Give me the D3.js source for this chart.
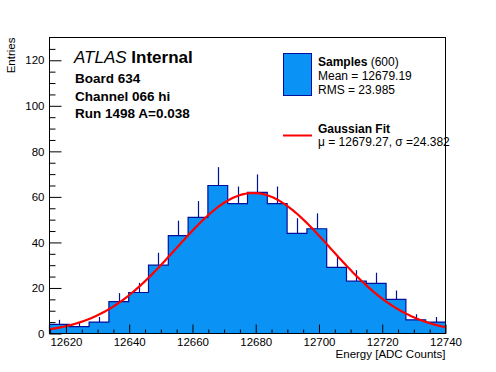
<!DOCTYPE html>
<html>
<head>
<meta charset="utf-8">
<script src="https://cdn.jsdelivr.net/npm/d3@7"></script>
<style>
  body { margin: 0; background: #fff; }
  svg { display: block; font-family: "Liberation Sans", Arial, Helvetica, sans-serif; }
</style>
</head>
<body>
<div id="chart"></div>
<script>
// histogram: 20 bins between xMin and xMax
const xMin = 12614.8;
const xMax = 12740;
const binCounts = [4, 3, 5, 14, 18, 30, 43, 51, 65, 57, 62, 57, 44, 46, 29, 23, 22, 15, 6, 5];

// axis ticks
const xMajorTicks = [12620, 12640, 12660, 12680, 12700, 12720, 12740];
const yMajorTicks = [0, 20, 40, 60, 80, 100, 120];
const yMax = 130;

// gaussian fit parameters (from the legend)
const fitMu = 12679.27;
const fitSigma = 24.382;
const fitAmp = 61.7;

// text
const atlasLines = ['Board 634', 'Channel 066 hi', 'Run 1498 A=0.038'];
const statLines = ['Mean = 12679.19', 'RMS = 23.985'];
const fitLine = '\u03bc = 12679.27, \u03c3 =24.382';

const width = 496;
const height = 372;
const frame = { left: 49.5, right: 445.5, top: 37.5, bottom: 333.5 };

const fillColor = '#0a93f5';
const lineColor = '#00109c';

const svg = d3.select('#chart').append('svg')
  .attr('width', width)
  .attr('height', height);

svg.append('rect').attr('width', width).attr('height', height).attr('fill', '#fff');

const x = d3.scaleLinear().domain([xMin, xMax]).range([frame.left, frame.right]);
const y = d3.scaleLinear().domain([0, yMax]).range([frame.bottom, frame.top]);

const binWidth = (xMax - xMin) / binCounts.length;
const bins = binCounts.map((n, i) => ({
  x0: xMin + i * binWidth,
  x1: xMin + (i + 1) * binWidth,
  n: n,
}));

// filled histogram
const area = d3.area()
  .curve(d3.curveStepAfter)
  .x(d => x(d.x))
  .y0(y(0))
  .y1(d => y(d.n));
const stepPts = bins.map(b => ({ x: b.x0, n: b.n })).concat([{ x: xMax, n: binCounts[binCounts.length - 1] }]);

svg.append('path')
  .attr('d', area(stepPts))
  .attr('fill', fillColor);

// error bars (upper half visible above the fill)
svg.append('g').selectAll('line')
  .data(bins)
  .join('line')
  .attr('x1', d => Math.round(x((d.x0 + d.x1) / 2)) + 0.5)
  .attr('x2', d => Math.round(x((d.x0 + d.x1) / 2)) + 0.5)
  .attr('y1', d => y(d.n))
  .attr('y2', d => y(d.n + Math.sqrt(d.n)))
  .attr('stroke', lineColor)
  .attr('stroke-width', 1.2);

// step outline
const stepLine = d3.line()
  .curve(d3.curveStepAfter)
  .x(d => x(d.x))
  .y(d => y(d.n));
svg.append('path')
  .attr('d', stepLine(stepPts))
  .attr('fill', 'none')
  .attr('stroke', lineColor)
  .attr('stroke-width', 1.2);
svg.append('line')
  .attr('x1', x(xMin)).attr('x2', x(xMin))
  .attr('y1', y(0)).attr('y2', y(binCounts[0]))
  .attr('stroke', lineColor).attr('stroke-width', 1.2);

// gaussian fit curve
const fitX = d3.range(0, 201).map(i => xMin + (xMax - xMin) * i / 200);
const gauss = v => fitAmp * Math.exp(-0.5 * Math.pow((v - fitMu) / fitSigma, 2));
svg.append('path')
  .attr('d', d3.line().x(v => x(v)).y(v => y(gauss(v)))(fitX))
  .attr('fill', 'none')
  .attr('stroke', '#ff0000')
  .attr('stroke-width', 2.2);

// frame
svg.append('rect')
  .attr('x', frame.left).attr('y', frame.top)
  .attr('width', frame.right - frame.left)
  .attr('height', frame.bottom - frame.top)
  .attr('fill', 'none')
  .attr('stroke', '#000');

// axes (ticks point into the frame, ROOT style)
const yMinor = d3.range(5, yMax, 5).filter(v => v % 20 !== 0);
const xMinor = d3.range(12615, xMax, 5).filter(v => v % 20 !== 0);

const yAxis = d3.axisLeft(y).tickValues(yMajorTicks).tickSizeInner(-12).tickSizeOuter(0).tickPadding(5);
const yAxisMinor = d3.axisLeft(y).tickValues(yMinor).tickSizeInner(-6).tickSizeOuter(0).tickFormat('');
const xAxis = d3.axisBottom(x).tickValues(xMajorTicks).tickSizeInner(-9).tickSizeOuter(0).tickPadding(4).tickFormat(d3.format('d'));
const xAxisMinor = d3.axisBottom(x).tickValues(xMinor).tickSizeInner(-4).tickSizeOuter(0).tickFormat('');

function styleAxis(g) {
  g.select('.domain').remove();
  g.selectAll('line').attr('stroke', '#000');
  g.selectAll('text').attr('fill', '#000').attr('font-size', 11.5)
    .attr('font-family', '"Liberation Sans", Arial, sans-serif');
}

svg.append('g').attr('transform', `translate(${frame.left},0)`).call(yAxis).call(styleAxis);
svg.append('g').attr('transform', `translate(${frame.left},0)`).call(yAxisMinor).call(styleAxis);
svg.append('g').attr('transform', `translate(0,${frame.bottom})`).call(xAxis).call(styleAxis);
svg.append('g').attr('transform', `translate(0,${frame.bottom})`).call(xAxisMinor).call(styleAxis);

// axis titles
svg.append('text')
  .attr('transform', `translate(15,${frame.top}) rotate(-90)`)
  .attr('text-anchor', 'end')
  .attr('font-size', 11.5)
  .text('Entries');

svg.append('text')
  .attr('x', frame.right)
  .attr('y', 358)
  .attr('text-anchor', 'end')
  .attr('font-size', 11.5)
  .text('Energy [ADC Counts]');

// ATLAS label
const atlas = svg.append('text').attr('x', 74).attr('y', 63).attr('font-size', 17);
atlas.append('tspan').attr('font-style', 'italic').text('ATLAS');
atlas.append('tspan').attr('font-weight', 'bold').text(' Internal');

svg.append('g').selectAll('text')
  .data(atlasLines)
  .join('text')
  .attr('x', 75)
  .attr('y', (d, i) => 83 + i * 17.7)
  .attr('font-size', 13.5)
  .attr('font-weight', 'bold')
  .text(d => d);

// legend
svg.append('rect')
  .attr('x', 283.5).attr('y', 53.5)
  .attr('width', 28).attr('height', 42)
  .attr('fill', fillColor)
  .attr('stroke', lineColor);

const samples = svg.append('text').attr('x', 318).attr('y', 65.5).attr('font-size', 12);
samples.append('tspan').attr('font-weight', 'bold').text('Samples');
samples.append('tspan').text(' (600)');

svg.append('g').selectAll('text')
  .data(statLines)
  .join('text')
  .attr('x', 318)
  .attr('y', (d, i) => 80 + i * 14)
  .attr('font-size', 12)
  .text(d => d);

svg.append('line')
  .attr('x1', 283).attr('x2', 312)
  .attr('y1', 135.5).attr('y2', 135.5)
  .attr('stroke', '#ff0000')
  .attr('stroke-width', 2);

svg.append('text').attr('x', 318).attr('y', 133).attr('font-size', 12)
  .attr('font-weight', 'bold').text('Gaussian Fit');
svg.append('text').attr('x', 318).attr('y', 145.5).attr('font-size', 12).text(fitLine);
</script>
</body>
</html>
